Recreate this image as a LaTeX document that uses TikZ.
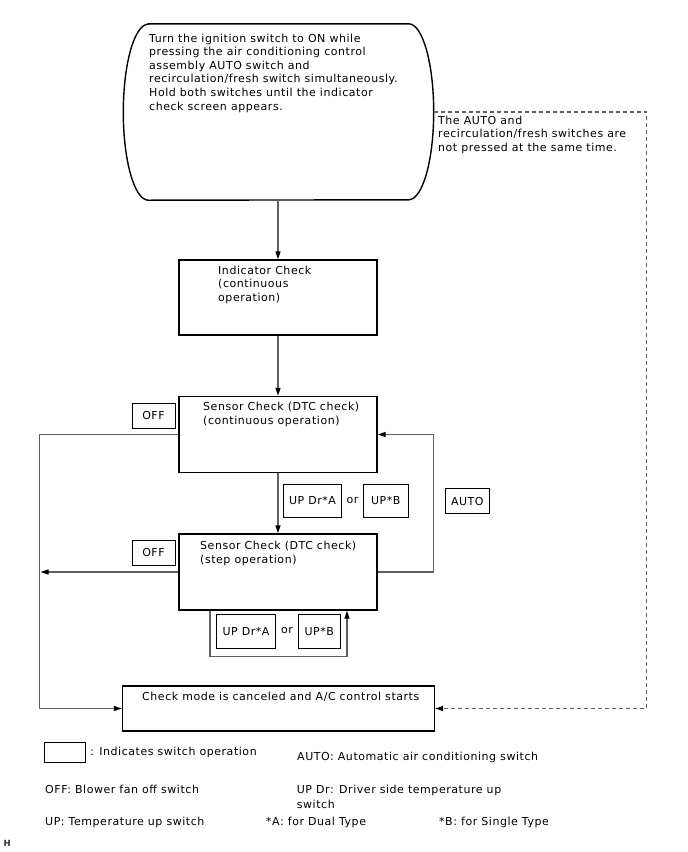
\documentclass[tikz,border=0pt]{standalone}
\usepackage{fontspec}
\setmainfont[LetterSpace=5]{DejaVu Sans}
\usetikzlibrary{arrows.meta}
\definecolor{lnc}{HTML}{606060}
\begin{document}
\begin{tikzpicture}[x=1pt,y=1pt,
  font=\fontsize{11}{13.6}\selectfont,
  mainbox/.style={draw=black,line width=1.4pt,minimum width=198pt,inner sep=0pt},
  swbox/.style={draw=black,line width=0.9pt,inner sep=0pt,align=center},
  txt/.style={inner sep=0pt,anchor=north west,align=left},
  btxt/.style={inner sep=0pt,anchor=base west},
  conn/.style={draw=lnc,line width=1.2pt},
  arr/.style={conn,-{Triangle[length=8pt,width=5pt,black]}},
  dashconn/.style={conn,dash pattern=on 4pt off 3pt,-{Triangle[length=8pt,width=5pt,black]}}]

\useasboundingbox (0,0) rectangle (688,-852);

% start terminal
\node[minimum width=310pt,minimum height=176pt,inner sep=0pt] (start) at (278.5,-112) {};
\draw[line width=1.4pt] ([xshift=25pt]start.north west) -- ([xshift=-25pt]start.north east)
  arc[start angle=90,end angle=-90,x radius=25pt,y radius=88pt]
  -- ([xshift=25pt]start.south west)
  arc[start angle=270,end angle=90,x radius=25pt,y radius=88pt] -- cycle;
\node[txt] (startT) at (149,-33.6) {Turn the ignition switch to ON while\\pressing the air conditioning control\\assembly AUTO switch and\\recirculation/fresh switch simultaneously.\\Hold both switches until the indicator\\check screen appears.};

% main boxes
\node[mainbox,minimum height=75pt] (ind) at (278,-297.5) {};
\node[txt] (indT) at (218,-265.6) {Indicator Check\\(continuous\\operation)};

\node[mainbox,minimum height=76pt] (sc) at (278,-434.5) {};
\node[txt] (scT) at (203,-402.3) {Sensor Check (DTC check)\\(continuous operation)};

\node[mainbox,minimum height=76pt] (ss) at (278,-572) {};
\node[txt] (ssT) at (200,-541) {Sensor Check (DTC check)\\(step operation)};

\node[draw=black,line width=1.4pt,minimum width=312pt,minimum height=45pt,inner sep=0pt] (fin) at (278.5,-708.5) {};
\node[btxt] (finT) at (142,-700.7) {Check mode is canceled and A/C control starts};

\node[txt] (dashT) at (438,-115.6) {The AUTO and\\recirculation/fresh switches are\\not pressed at the same time.};

% switch boxes
\node[swbox,minimum width=43pt,minimum height=25pt] (off1) at (153.5,-415.5) {OFF};
\node[swbox,minimum width=43pt,minimum height=25pt] (off2) at (153.5,-552.5) {OFF};
\node[swbox,minimum width=43.3pt,minimum height=24.7pt] (auto) at (467.3,-501) {AUTO};
\node[swbox,minimum width=58.3pt,minimum height=33.3pt] (upa1) at (312.5,-500.7) {UP Dr*A};
\node[inner sep=0pt] (or1) at (352.5,-500) {or};
\node[swbox,minimum width=45pt,minimum height=33.3pt] (upb1) at (385.8,-500.7) {UP*B};
\node[swbox,minimum width=58.7pt,minimum height=34.3pt] (upa2) at (246,-631.2) {UP Dr*A};
\node[inner sep=0pt] (or2) at (287,-630.5) {or};
\node[swbox,minimum width=41.7pt,minimum height=34.3pt] (upb2) at (319.2,-631.2) {UP*B};

% connectors
\coordinate (lc) at (39.5,0);
\coordinate (rc) at (433.5,0);
\coordinate (dc) at (646.7,0);
\draw[arr] (start.south -| ind.north) -- (ind.north);
\draw[arr] (ind.south) -- (sc.north);
\draw[arr] (sc.south) -- (ss.north);
\draw[arr] (sc.west) -- (sc.west -| lc) -- (fin.west -| lc) -- (fin.west);
\draw[arr] (ss.west) -- ([xshift=1pt]ss.west -| lc);
\draw[arr] (ss.east) -- (ss.east -| rc) -- (sc.east -| rc) -- (sc.east);
\draw[arr] ([xshift=-68pt]ss.south) -- ++(0,-45.7) -| ([xshift=69pt]ss.south);
\draw[dashconn] (start.east) -- (start.east -| dc) -- (fin.east -| dc) -- (fin.east);

% legend
\node[swbox,minimum width=41pt,minimum height=20pt] (legbox) at (64.5,-752) {};
\node[btxt] (leg1) at (90,-755.7) {: Indicates switch operation};
\node[btxt] (leg2) at (297,-760) {AUTO: Automatic air conditioning switch};
\node[btxt] (leg3) at (45,-793) {OFF: Blower fan off switch};
\node[txt,font=\fontsize{11}{15}\selectfont] (leg4) at (296.7,-784.6) {UP Dr: Driver side temperature up\\switch};
\node[btxt] (leg5) at (45,-825) {UP: Temperature up switch};
\node[btxt] (leg6) at (266,-825) {*A: for Dual Type};
\node[btxt] (leg7) at (439,-825) {*B: for Single Type};
\node[btxt,font=\fontsize{8.5}{9}\selectfont\bfseries,text=black!80] (hmark) at (3.3,-846.5) {H};
\end{tikzpicture}
\end{document}
